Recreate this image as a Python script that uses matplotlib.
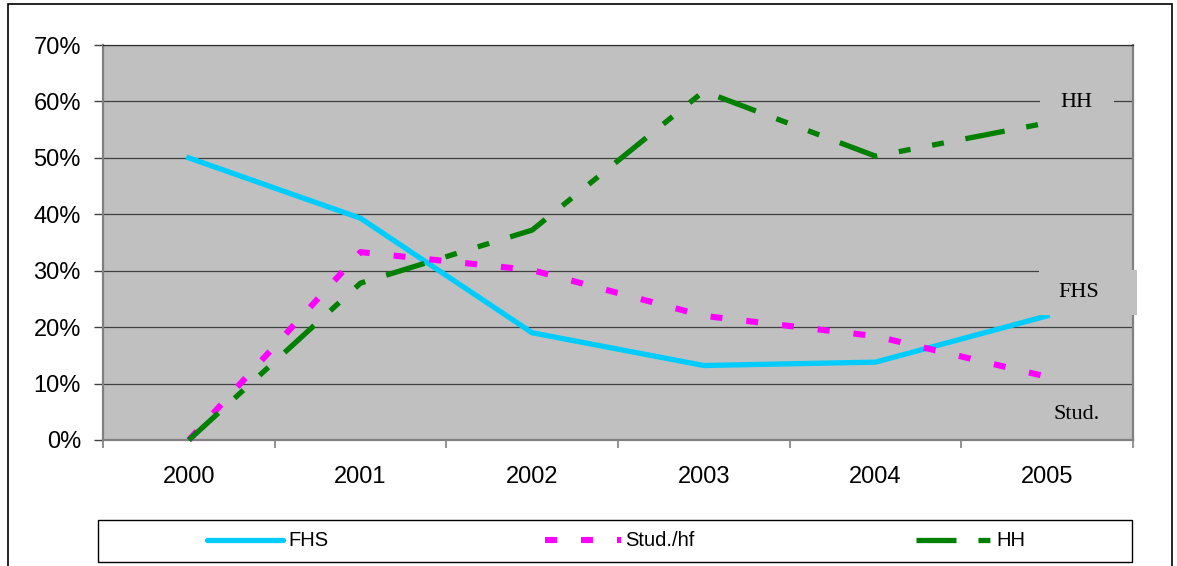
import matplotlib
matplotlib.use("Agg")
import matplotlib.pyplot as plt
from matplotlib.lines import Line2D
from matplotlib.patches import Rectangle
from matplotlib.path import Path

years = ["2000", "2001", "2002", "2003", "2004", "2005"]
fhs = [50.0, 39.3, 19.0, 13.2, 13.8, 22.0]
stud_hf = [0.0, 33.3, 30.1, 22.0, 18.4, 11.2]
hh = [0.0, 27.8, 37.2, 61.8, 50.3, 56.2]
y_ticks = [0, 10, 20, 30, 40, 50, 60, 70]
y_tick_labels = ["0%", "10%", "20%", "30%", "40%", "50%", "60%", "70%"]
series_names = ["FHS", "Stud./hf", "HH"]
end_labels = ["FHS", "Stud.", "HH"]

plt.rcParams["lines.scale_dashes"] = False
plt.rcParams["font.family"] = ["Liberation Sans", "DejaVu Sans"]

W, H = 1177, 566
fig = plt.figure(figsize=(W / 100, H / 100), dpi=100)
fig.patch.set_facecolor("white")

ax = fig.add_axes([103 / W, 1 - 440 / H, (1133 - 103) / W, (440 - 45) / H])
ax.set_facecolor("#C0C0C0")

x = list(range(len(years)))
c_fhs, c_stud, c_hh = "#00CCFF", "#FF00FF", "#008000"
d_stud = (0, (8.6, 17.3))
d_hh = (0, (28.8, 15.8, 8.6, 15.8, 8.6, 15.8))

ax.plot(x, fhs, color=c_fhs, lw=3.8, solid_joinstyle="miter", zorder=3, clip_on=False)
ax.plot(x, stud_hf, color=c_stud, lw=4.4, linestyle=d_stud, dash_capstyle="butt", zorder=3, clip_on=False)
ax.plot(x, hh, color=c_hh, lw=3.8, linestyle=d_hh, dash_capstyle="butt", zorder=3, clip_on=False)

ax.set_xlim(-0.5, len(years) - 0.5)
ax.set_ylim(0, 70)
ax.set_yticks(y_ticks)
ax.set_yticklabels(y_tick_labels, fontsize=17)
ax.set_xticks(x)
ax.set_xticklabels(years, fontsize=17)
ax.set_xticks([i - 0.5 for i in range(len(years) + 1)], minor=True)
ax.tick_params(axis="x", which="major", length=0, pad=18.5)
ax.tick_params(axis="x", which="minor", length=5.8, width=1.2, color="#808080", direction="out")
ax.tick_params(axis="y", which="major", length=6.5, width=1.0, color="#404040", direction="out", pad=9.4)

ax.grid(axis="y", color="#404040", lw=0.9, zorder=1)
ax.set_axisbelow(True)
for s in ["left", "bottom", "right"]:
    ax.spines[s].set_color("#808080")
    ax.spines[s].set_linewidth(1.6)
ax.spines["top"].set_color("#303030")
ax.spines["top"].set_linewidth(0.9)


def pad_box(left, right, top, bottom):
    def style(x0, y0, width, height, mutation_size):
        xa, xb = x0 - left, x0 + width + right
        ya, yb = y0 - bottom, y0 + height + top
        return Path([(xa, ya), (xb, ya), (xb, yb), (xa, yb), (xa, ya)], closed=True)
    return style


label_specs = [
    (end_labels[0], fhs[-1], (23, 17), pad_box(20, 38, 13, 13)),
    (end_labels[1], stud_hf[-1], (21, -27), pad_box(20, 20, 8, 8)),
    (end_labels[2], hh[-1], (21, 15), pad_box(20, 22, 8, 8)),
]
for txt, val, off, box in label_specs:
    ax.annotate(txt, xy=(x[-1], val), xytext=off, textcoords="offset points",
                ha="center", va="center", fontsize=16, family=["Liberation Serif", "DejaVu Serif"],
                color="black", zorder=5, annotation_clip=False,
                bbox=dict(boxstyle=box, facecolor="#C0C0C0", edgecolor="none"))

# outer chart border
fig.add_artist(Rectangle((8 / W, -0.02), (1172 - 8) / W, 1.02 - 4 / H, transform=fig.transFigure,
                         fill=False, edgecolor="black", lw=1.2))

# legend
fig.add_artist(Rectangle((98 / W, 1 - 562 / H), (1132 - 98) / W, (562 - 520) / H, transform=fig.transFigure,
                         fill=True, facecolor="white", edgecolor="black", lw=1.0))
ly = 1 - 540 / H
leg = [
    (series_names[0], c_fhs, "-", 3.8, 207, 283, 288, "round"),
    (series_names[1], c_stud, d_stud, 4.4, 545, 621, 625, "butt"),
    (series_names[2], c_hh, d_hh, 3.8, 916, 992, 996, "butt"),
]
for name, col, ls, lw, xa, xb, xt, cap in leg:
    fig.add_artist(Line2D([xa / W, xb / W], [ly, ly], transform=fig.transFigure, color=col,
                          linestyle=ls, lw=lw, solid_capstyle=cap, dash_capstyle=cap))
    fig.text(xt / W, ly, name, ha="left", va="center", fontsize=14.5)

fig.savefig("out.png", dpi=100)
